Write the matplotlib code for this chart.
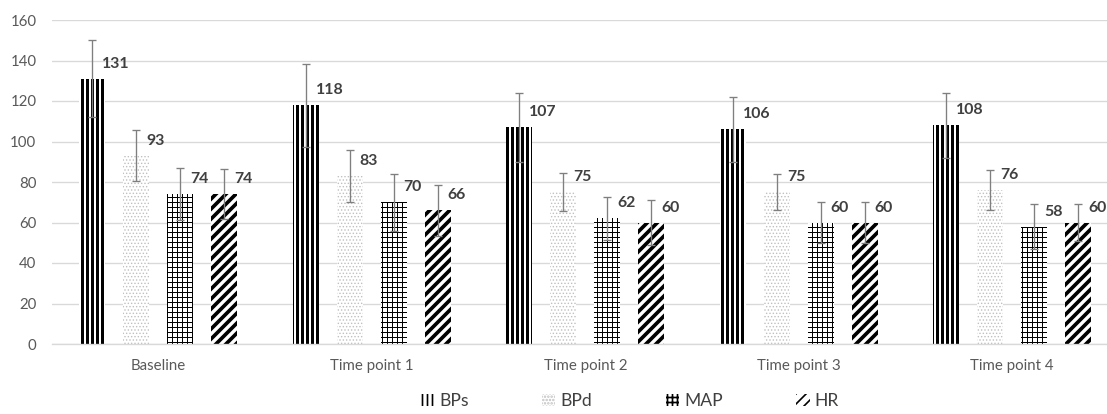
import numpy as np
import matplotlib
matplotlib.use("Agg")
import matplotlib.pyplot as plt
from matplotlib.patches import Patch

categories = ["Baseline", "Time point 1", "Time point 2", "Time point 3", "Time point 4"]
series_names = ["BPs", "BPd", "MAP", "HR"]
bps = [131, 118, 107, 106, 108]
bpd = [93, 83, 75, 75, 76]
map_ = [74, 70, 62, 60, 58]
hr = [74, 66, 60, 60, 60]
bps_sd = [19, 20.5, 17, 16, 16]
bpd_sd = [12.5, 13, 9.5, 9, 10]
map_sd = [13, 14, 10.5, 10, 11]
hr_sd = [12.5, 12.5, 11, 10, 9]
yticks = [0, 20, 40, 60, 80, 100, 120, 140, 160]

values = [bps, bpd, map_, hr]
sds = [bps_sd, bpd_sd, map_sd, hr_sd]

styles = [
    dict(hatch="||||", hcolor="black", hlw=1.8),
    dict(hatch="......", hcolor="#c0c0c0", hlw=0.5),
    dict(hatch="++++", hcolor="black", hlw=0.6),
    dict(hatch="////", hcolor="black", hlw=2.2),
]

plt.rcParams["font.family"] = ["Lato", "DejaVu Sans"]
fig = plt.figure(figsize=(1107 / 120, 414 / 120), dpi=120)
ax = fig.add_axes([51.5 / 1107, 70 / 414, (1119 - 51.5) / 1107, 324 / 414])

x = np.arange(len(categories))
pitch = 0.206
width = 0.122
handles = []
for i, (vals, sd, st, name) in enumerate(zip(values, sds, styles, series_names)):
    pos = x + (i - 1.5) * pitch
    with plt.rc_context({"hatch.linewidth": st["hlw"], "hatch.color": st["hcolor"]}):
        bars = ax.bar(pos, vals, width, color="white", edgecolor=st["hcolor"],
                      linewidth=0, hatch=st["hatch"], zorder=2)
        for b in bars:
            if hasattr(b, "set_hatch_linewidth"):
                b.set_hatch_linewidth(st["hlw"])
        h = Patch(facecolor="white", edgecolor=st["hcolor"], linewidth=0,
                  hatch=st["hatch"], label=name)
        if hasattr(h, "set_hatch_linewidth"):
            h.set_hatch_linewidth(st["hlw"])
        handles.append(h)
    ax.errorbar(pos, vals, yerr=sd, fmt="none", ecolor="#7f7f7f",
                elinewidth=0.8, capsize=2.5, capthick=0.8, zorder=3)
    for px, v in zip(pos, vals):
        ax.annotate(f"{v}", (px, v), xytext=(6, 9), textcoords="offset points",
                    ha="left", va="center", fontsize=9.5, fontweight="bold",
                    color="#404040", zorder=4)

ax.set_xlim(-0.5, len(categories) - 0.5)
ax.set_ylim(0, 160)
ax.set_yticks(yticks)
ax.set_xticks(x)
ax.set_xticklabels(categories)
ax.tick_params(axis="both", length=0, colors="#595959", labelsize=9)
ax.tick_params(axis="y", pad=9)
ax.tick_params(axis="x", pad=9)
ax.yaxis.grid(True, color="#d9d9d9", linewidth=0.8, zorder=0)
ax.set_axisbelow(True)
for s in ["top", "right", "left"]:
    ax.spines[s].set_visible(False)
ax.spines["bottom"].set_color("#d9d9d9")
ax.spines["bottom"].set_linewidth(0.8)

leg = fig.legend(handles=handles, loc="center", bbox_to_anchor=(630 / 1107, 1 - 401 / 414),
                 ncol=4, frameon=False, fontsize=10.5, handlelength=0.75, handleheight=0.7,
                 handletextpad=0.3, columnspacing=4.2, labelcolor="#404040")

fig.savefig("out.png", dpi=120)
